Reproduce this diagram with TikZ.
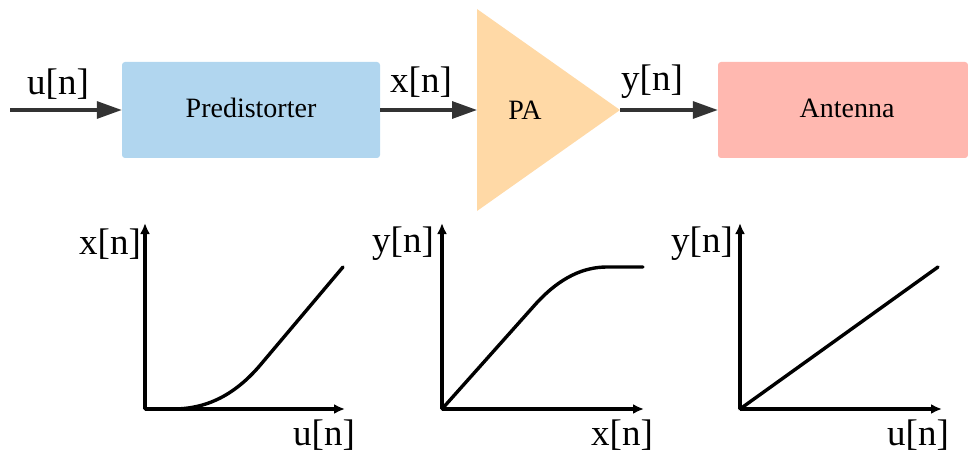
\documentclass[tikz,border=0pt]{standalone}
\usepackage{fontspec}
\setmainfont{Liberation Serif}
\usetikzlibrary{arrows.meta}
\definecolor{predblue}{HTML}{B1D6EF}
\definecolor{antpink}{HTML}{FFB8B0}
\definecolor{paorange}{HTML}{FFD9A6}
\definecolor{conn}{HTML}{333333}
\tikzset{
  blockbox/.style={rounded corners=3pt, inner sep=0pt, font=\fontsize{28}{30}\selectfont},
  sig/.style={draw=conn, line width=3.2pt, -{Triangle[length=25pt,width=17pt]}},
  siglabel/.style={inner sep=0pt, font=\fontsize{37}{40}\selectfont},
  axis/.style={draw=black, line width=3.2pt, -{Latex[length=11pt,width=10pt]}},
  curve/.style={draw=black, line width=3.4pt, line cap=round, line join=round},
  axlabel/.style={inner sep=0pt, font=\fontsize{37}{40}\selectfont},
}
\begin{document}
\begin{tikzpicture}[x=1pt,y=-1pt]
\useasboundingbox (0,0) rectangle (968,457);
% blocks
\node[blockbox, fill=predblue, minimum width=258pt, minimum height=96pt] (pred) at (251,110) {};
\node[blockbox] (predt) at (251,108) {Predistorter};
\node[blockbox, fill=antpink, minimum width=250pt, minimum height=96pt] (ant) at (843,110) {};
\node[blockbox] (antt) at (847,108) {Antenna};
\coordinate (paL) at (477,110);
\coordinate (paR) at (620,110);
\coordinate (paT) at (477,9);
\coordinate (paB) at (477,211);
\fill[paorange] (paT) -- (paR) -- (paB) -- cycle;
\node[blockbox] (pat) at (525,110) {PA};
% connectors
\coordinate (in) at (10,110);
\draw[sig] (in) -- (pred.west);
\draw[sig] (pred.east) -- (paL);
\draw[sig] (paR) -- (ant.west);
\node[siglabel] (lu) at (58,84) {u[n]};
\node[siglabel] (lx) at (421,82) {x[n]};
\node[siglabel] (ly) at (652,82) {y[n]};
% plot 1
\coordinate (o1) at (145,409);
\coordinate (y1) at (145,223);
\coordinate (x1) at (345,409);
\draw[axis] (o1) -- (y1);
\draw[axis] (o1) -- (x1);
\draw[curve] (o1) -- (173,409) .. controls (210,409) and (238,392) .. (262,363) -- (343,267);
\node[axlabel] (p1y) at (110,244) {x[n]};
\node[axlabel] (p1x) at (324,435) {u[n]};
% plot 2
\coordinate (o2) at (442,409);
\coordinate (y2) at (442,223);
\coordinate (x2) at (644,409);
\draw[axis] (o2) -- (y2);
\draw[axis] (o2) -- (x2);
\draw[curve] (o2) -- (533,307) .. controls (560,276) and (585,267) .. (607,267) -- (643,267);
\node[axlabel] (p2y) at (403,244) {y[n]};
\node[axlabel] (p2x) at (622,435) {x[n]};
% plot 3
\coordinate (o3) at (740,409);
\coordinate (y3) at (740,223);
\coordinate (x3) at (942,409);
\draw[axis] (o3) -- (y3);
\draw[axis] (o3) -- (x3);
\draw[curve] (o3) -- (938,267);
\node[axlabel] (p3y) at (702,244) {y[n]};
\node[axlabel] (p3x) at (918,435) {u[n]};
\end{tikzpicture}
\end{document}
